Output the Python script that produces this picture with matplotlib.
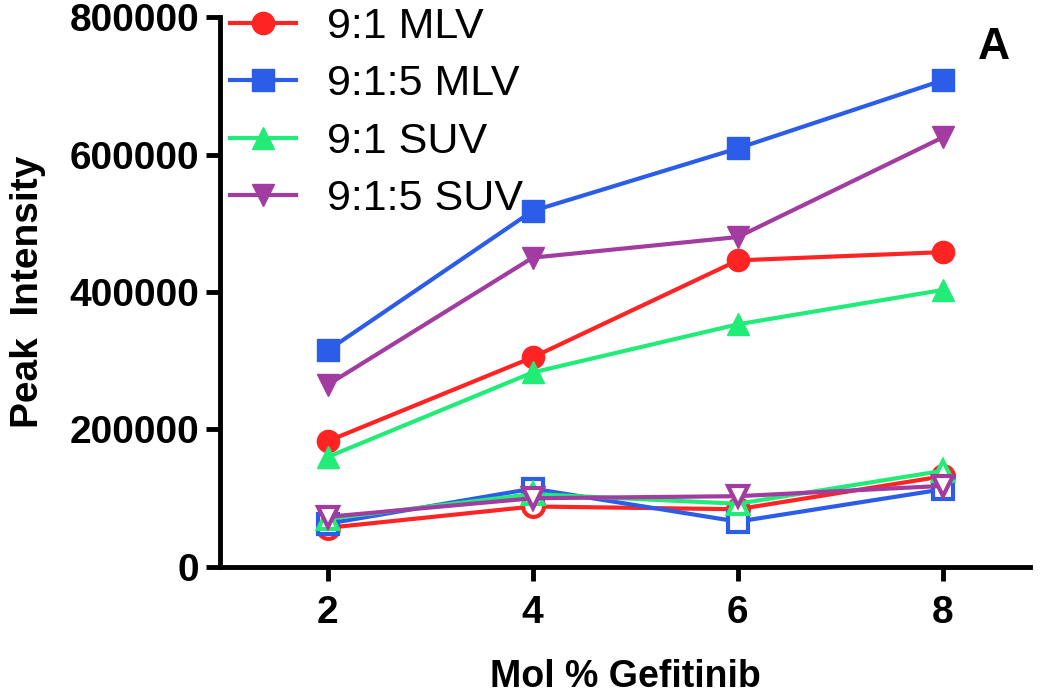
import numpy as np
from matplotlib import pyplot as plt

plt.rcParams['font.family'] = ['Liberation Sans', 'DejaVu Sans']

# data
mol_pct = [2, 4, 6, 8]
labels = ["9:1 MLV", "9:1:5 MLV", "9:1 SUV", "9:1:5 SUV"]
colors = ["#FF2424", "#2B5DE8", "#22EC78", "#A23CA0"]
markers = ["o", "s", "^", "v"]

# filled markers (upper curves)
mlv_91 = [183000, 305000, 446000, 458000]
mlv_915 = [315000, 518000, 609000, 708000]
suv_91 = [160000, 283000, 353000, 403000]
suv_915 = [265000, 450000, 480000, 625000]

# open markers (lower curves)
mlv_91_open = [57000, 88000, 84000, 132000]
mlv_915_open = [63000, 114000, 66000, 113000]
suv_91_open = [70000, 106000, 92000, 140000]
suv_915_open = [73000, 100000, 103000, 118000]

filled = [mlv_91, mlv_915, suv_91, suv_915]
opened = [mlv_91_open, mlv_915_open, suv_91_open, suv_915_open]

fig = plt.figure(figsize=(10.5, 6.98), dpi=100)
ax = fig.add_axes([0.2095, 0.1877, 0.7715, 0.7879])

for ys, c, m in zip(opened, colors, markers):
  ax.plot(mol_pct, ys, color=c, marker=m, markersize=15, lw=3,
          mfc="white", mec=c, mew=3)

for ys, c, m, lab in zip(filled, colors, markers, labels):
  ax.plot(mol_pct, ys, color=c, marker=m, markersize=16, lw=3,
          mfc=c, mec=c, label=lab)

ax.set_xlim(0.95, 8.85)
ax.set_ylim(0, 800000)
ax.set_xticks([2, 4, 6, 8])
ax.set_yticks([0, 200000, 400000, 600000, 800000])
ax.set_yticklabels(["0", "200000", "400000", "600000", "800000"])

for s in ["top", "right"]:
  ax.spines[s].set_visible(False)
for s in ["left", "bottom"]:
  ax.spines[s].set_linewidth(3.5)

ax.tick_params(axis="both", width=3.5, length=10, labelsize=28)
ax.tick_params(axis="x", pad=10)
ax.tick_params(axis="y", pad=5)
for t in ax.get_xticklabels() + ax.get_yticklabels():
  t.set_fontweight("bold")

ax.set_xlabel("Mol % Gefitinib", fontsize=27, fontweight="bold", labelpad=20)
ax.set_ylabel("Peak  Intensity", fontsize=28, fontweight="bold", labelpad=17)

ax.text(0.955, 0.945, "A", transform=ax.transAxes, fontsize=32,
        fontweight="bold", ha="center", va="center")

ax.legend(loc="upper left", bbox_to_anchor=(0.012, 1.018), frameon=False,
          fontsize=31, handlelength=1.55, handletextpad=0.72,
          labelspacing=0.4, borderaxespad=0.0, borderpad=0.0)

plt.savefig("out.png", dpi=100)
plt.close(fig)
